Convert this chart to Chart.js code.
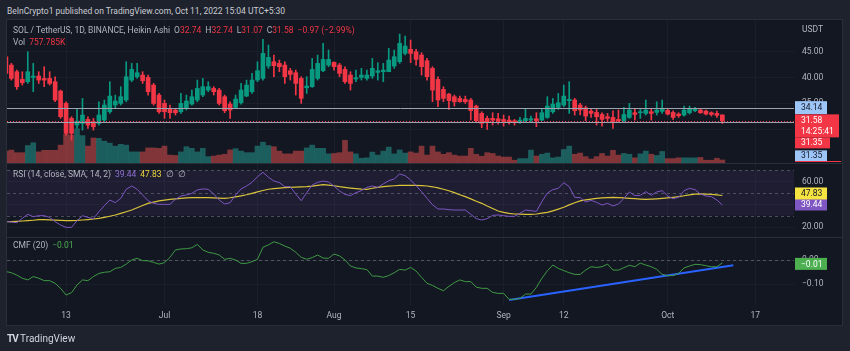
<!DOCTYPE html>
<html>
<head>
<meta charset="utf-8">
<script src="https://cdn.jsdelivr.net/npm/chart.js@4.4.0/dist/chart.umd.min.js"></script>
<style>
body { margin: 0; background: #1e222d; width: 850px; height: 351px; overflow: hidden; position: relative; font-family: Roboto, sans-serif; }
#panel { position: absolute; left: 6px; top: 19px; width: 835px; height: 305px; border: 1px solid #2a2e39; background: #131722; }
#panel canvas { position: absolute; left: 0; }
.sep { position: absolute; left: 0; width: 835px; height: 1px; background: #2a2e39; }
.txt { position: absolute; font-size: 8.5px; line-height: 10px; color: #b2b5be; white-space: nowrap; }
.r { color: #f23645; }
.g { margin-left: 4px; }
</style>
</head>
<body>
<div class="txt" style="left:7px;top:6px;color:#c9ccd4;">BeInCrypto1 published on TradingView.com, Oct 11, 2022 15:04 UTC+5:30</div>
<div id="panel">
  <canvas id="price" width="835" height="143" style="top:0"></canvas>
  <div class="sep" style="top:143px"></div>
  <canvas id="rsi" width="835" height="73" style="top:144px"></canvas>
  <div class="sep" style="top:217px"></div>
  <canvas id="cmf" width="835" height="87" style="top:218px"></canvas>
</div>
<div class="txt" style="left:13px;top:25px;">SOL / TetherUS, 1D, BINANCE, Heikin Ashi<span class="g">O</span><span class="r">32.74</span><span class="g">H</span><span class="r">32.74</span><span class="g">L</span><span class="r">31.07</span><span class="g">C</span><span class="r">31.58</span><span class="g r">−0.97 (−2.99%)</span></div>
<div class="txt" style="left:13px;top:37px;">Vol<span class="g r">757.785K</span></div>
<div class="txt" style="left:802px;top:24px;">USDT</div>
<div class="txt" style="left:13px;top:169px;">RSI (14, close, SMA, 14, 2)<span class="g" style="color:#8e6fd0">39.44</span><span class="g" style="color:#e8d33a">47.83</span><span class="g">∅</span><span class="g">∅</span></div>
<div class="txt" style="left:13px;top:240px;">CMF (20)<span class="g" style="color:#4caf50">−0.01</span></div>
<div class="txt" style="left:7px;top:334px;font-size:10px;color:#d1d4dc;"><b style="letter-spacing:-1px">TV</b> TradingView</div>
<script>
// Heikin Ashi daily candles, SOL/USDT, day 1 = Jun 1 2022
const firstDay = 1;
const opens = [44.0,42.41,41.12,39.63,39.18,40.02,40.28,39.82,39.82,39.18,
  37.37,34.97,32.06,30.76,31.09,31.86,31.41,31.09,31.73,33.35,
  34.65,34.97,35.62,39.50,40.15,40.47,40.02,38.53,36.59,34.97,
  34.0,33.68,33.35,34.13,34.84,35.62,36.59,37.56,37.88,37.56,
  36.27,34.84,34.19,35.10,36.39,37.24,39.50,39.82,42.22,43.06,
  42.74,42.41,41.31,40.93,39.82,38.01,38.21,39.82,41.31,42.41,
  42.93,42.41,41.57,40.47,39.70,40.02,39.82,40.28,40.99,41.12,
  41.12,42.22,43.06,44.68,45.46,45.0,44.36,43.26,41.77,39.63,
  37.69,36.78,36.27,35.94,35.75,35.62,34.45,33.03,32.06,32.06,
  31.99,31.86,31.73,31.60,31.41,31.60,31.73,31.99,31.73,32.25,
  33.35,34.19,34.65,35.49,35.62,34.65,34.13,33.48,33.22,32.83,
  32.38,32.25,31.86,31.60,32.25,33.16,33.16,33.03,33.35,33.22,
  33.42,33.61,33.22,32.90,32.71,33.16,33.55,33.68,33.48,33.16,
  33.03,32.74];
const highs = [44.5,42.74,41.44,41.12,45.0,42.74,41.12,42.09,41.12,40.15,
  37.56,35.29,32.38,34.0,35.94,32.38,32.06,35.29,35.62,39.18,
  36.59,38.21,43.06,42.74,42.74,41.12,40.47,38.85,36.91,35.62,
  34.65,33.81,36.91,36.59,37.56,39.50,39.82,39.18,38.21,37.88,
  36.59,35.29,36.59,38.85,39.50,40.80,43.06,47.40,46.30,44.36,
  43.38,43.06,41.77,41.44,40.15,40.15,43.71,44.36,46.62,45.33,
  43.06,42.74,42.09,41.12,41.44,41.77,41.44,43.71,42.87,42.74,
  45.65,45.33,48.43,48.04,47.27,45.46,44.81,43.71,42.09,40.15,
  38.21,36.91,36.59,36.39,36.39,35.94,34.65,33.35,32.51,33.16,
  33.03,32.71,32.51,31.86,32.25,34.0,32.51,33.16,34.0,36.27,
  35.94,36.91,38.53,39.18,35.94,34.97,34.45,34.0,33.81,33.16,
  33.03,33.55,33.68,34.19,34.97,34.0,34.0,35.62,34.0,35.29,
  35.62,34.0,33.55,33.16,34.45,34.45,34.19,34.0,33.68,33.35,
  33.48,32.74];
const lows = [40.5,39.50,37.69,38.53,38.85,37.24,38.85,38.21,38.53,35.29,
  32.06,28.82,27.85,30.12,29.79,30.12,29.79,30.76,31.41,33.03,
  34.0,34.65,35.29,39.18,39.82,38.85,36.59,34.65,33.03,32.06,
  32.06,32.71,33.03,33.68,34.65,35.29,36.27,37.24,36.59,34.65,
  33.16,32.06,34.0,34.84,36.27,36.91,39.18,39.50,41.77,40.15,
  41.12,38.85,39.50,36.59,34.97,36.91,38.08,39.50,41.12,42.09,
  41.44,40.15,38.85,37.56,39.18,39.50,39.50,39.82,39.50,39.18,
  41.12,41.77,42.74,44.36,42.87,42.41,40.47,39.50,35.29,34.32,
  35.29,33.81,34.45,35.20,34.97,31.73,31.22,30.25,29.92,30.76,
  30.96,30.57,30.96,30.76,31.09,31.22,31.22,30.44,31.60,32.06,
  33.03,33.81,34.32,33.03,32.71,32.71,31.60,32.25,30.76,30.57,
  31.41,30.12,31.22,31.41,32.06,31.73,32.06,32.71,31.73,32.71,
  33.03,32.71,31.86,32.25,32.51,32.90,33.35,33.03,32.71,32.51,
  32.25,31.07];
const closes = [40.8,39.82,38.21,38.98,41.12,40.28,39.50,39.50,38.85,35.62,
  32.38,29.15,29.15,31.54,32.71,30.76,30.44,32.71,34.65,36.39,
  35.42,36.27,40.15,41.57,40.93,39.37,37.24,34.97,33.35,33.35,
  33.16,33.16,34.97,35.42,36.27,37.88,38.21,38.21,37.24,34.97,
  33.55,33.68,35.81,37.56,38.53,39.50,41.31,44.68,43.90,42.28,
  42.09,40.15,40.60,38.85,35.94,38.34,41.57,42.74,43.51,43.51,
  42.09,40.80,39.18,38.85,39.95,40.47,40.47,41.77,41.31,41.44,
  43.38,44.03,46.62,46.10,44.68,43.51,42.09,40.15,37.56,35.62,
  35.94,35.49,35.29,35.29,35.29,33.55,31.60,31.09,31.35,31.73,
  31.60,31.48,31.41,31.22,31.73,32.06,31.99,31.60,33.16,34.45,
  34.84,35.10,36.39,35.75,33.55,33.68,32.51,33.03,32.38,31.86,
  32.06,31.41,31.60,32.83,33.68,32.83,33.35,33.68,33.03,33.68,
  33.93,32.90,32.25,32.58,33.68,34.0,33.87,33.16,32.90,32.83,
  32.64,31.58];
// volume in millions of SOL
const volumes = [3.0,3.25,2.6,2.6,4.4,5.1,2.8,3.2,3.2,3.2,
  4.5,7.2,7.0,8.6,6.9,4.25,6.3,6.2,5.5,5.0,
  4.25,4.7,4.5,2.8,2.8,2.8,3.8,3.8,3.7,4.25,
  2.0,1.9,2.8,4.1,3.7,2.8,3.7,1.6,1.75,2.0,
  2.2,3.3,3.6,3.0,2.6,2.6,4.25,5.25,4.4,4.1,
  3.0,2.3,2.3,3.0,3.0,3.8,4.5,3.7,3.7,2.3,
  2.4,2.6,5.7,2.8,2.3,1.2,1.3,2.75,2.0,3.0,
  4.0,2.3,3.3,2.5,2.8,2.5,4.25,2.0,4.25,2.8,
  2.2,2.6,2.0,1.75,1.75,3.7,2.2,1.7,2.6,2.4,
  1.75,1.5,1.5,0.7,1.1,1.1,3.25,1.75,2.2,2.5,
  1.3,1.5,3.4,4.25,2.2,2.5,1.6,1.0,1.6,2.4,
  1.75,3.2,2.0,2.4,2.2,1.3,2.3,3.0,2.2,1.9,
  2.9,1.1,1.1,1.3,1.3,1.3,1.3,1.4,0.7,0.7,
  1.2,0.76];
const rsi = [25.0,24.4,23.8,27.7,31.2,29.1,30.0,30.0,28.5,24.7,
  21.8,19.7,19.7,25.6,30.0,28.5,27.4,33.5,38.8,43.8,
  41.5,45.3,53.3,56.2,53.3,48.3,43.2,40.9,40.0,40.0,
  40.0,44.4,47.4,48.3,49.7,52.7,53.6,53.3,49.1,43.8,
  40.3,41.5,48.3,53.6,56.2,59.4,64.4,68.3,63.9,60.6,
  59.2,55.6,55.6,49.1,43.2,50.3,57.1,59.4,60.6,59.7,
  56.2,51.8,48.8,47.7,50.3,52.1,55.0,56.2,55.0,58.0,
  60.9,62.4,66.8,65.3,61.5,56.5,51.2,45.3,39.7,35.9,
  35.9,35.3,35.0,35.0,35.0,31.2,27.4,26.2,27.4,30.3,
  30.6,30.0,29.4,29.4,32.1,35.0,34.4,33.8,42.4,50.0,
  53.0,54.1,59.1,55.6,46.2,45.9,42.1,43.5,41.8,39.4,
  40.9,38.6,40.3,45.3,50.9,47.7,48.0,51.2,48.0,50.9,
  52.1,47.4,45.0,46.2,52.1,54.1,53.0,49.1,47.4,46.8,
  43.8,39.44];
const rsiMa = [24.7,24.7,25.0,25.3,25.6,26.0,26.5,26.5,26.3,26.0,
  25.8,25.6,25.6,25.8,26.2,26.6,27.1,27.7,28.5,29.5,
  30.6,32.0,33.5,35.0,37.0,39.0,40.9,42.0,43.0,43.8,
  44.4,44.9,45.3,45.7,45.9,45.9,45.9,45.9,45.7,45.5,
  45.3,45.8,46.6,47.5,48.5,49.7,51.0,52.2,53.3,53.9,
  54.4,54.7,55.0,55.2,55.4,55.6,56.1,56.8,57.4,57.0,
  56.4,55.6,55.0,54.4,53.9,53.5,53.3,54.2,55.0,55.6,
  56.0,56.4,56.7,56.8,56.8,56.8,56.6,56.2,55.5,54.6,
  53.3,52.0,50.3,48.5,46.8,44.8,42.8,40.9,38.5,36.3,
  34.1,33.0,32.1,31.5,31.3,31.2,31.2,31.5,32.2,32.9,
  34.3,35.8,37.4,39.5,41.4,43.0,43.9,44.6,45.3,45.7,
  46.0,46.2,46.0,45.7,45.3,45.0,44.7,44.4,44.6,44.9,
  45.3,45.7,46.2,46.8,47.6,48.4,49.1,49.2,49.1,48.8,
  48.3,47.83];
const cmf = [-0.048,-0.053,-0.063,-0.076,-0.083,-0.069,-0.076,-0.086,-0.086,-0.097,
  -0.118,-0.146,-0.136,-0.104,-0.083,-0.086,-0.069,-0.056,-0.051,-0.049,
  -0.035,-0.031,-0.017,0.0,0.007,-0.003,-0.003,-0.010,-0.017,-0.011,
  0.011,0.042,0.046,0.047,0.051,0.065,0.042,0.032,0.028,0.021,
  0.003,0.007,0.0,-0.014,-0.014,-0.007,0.003,0.053,0.063,0.076,
  0.069,0.058,0.049,0.032,0.011,0.003,0.010,0.021,0.008,0.007,
  0.025,0.017,0.0,-0.025,-0.033,-0.036,-0.040,-0.067,-0.067,-0.072,
  -0.065,-0.053,-0.039,-0.042,-0.031,-0.046,-0.072,-0.097,-0.106,-0.118,
  -0.128,-0.110,-0.094,-0.083,-0.090,-0.090,-0.113,-0.118,-0.118,-0.135,
  -0.139,-0.139,-0.164,-0.164,-0.160,-0.142,-0.142,-0.114,-0.076,-0.045,
  -0.021,-0.035,-0.044,-0.053,-0.060,-0.060,-0.042,-0.028,-0.031,-0.028,
  -0.017,-0.042,-0.042,-0.032,-0.022,-0.028,-0.013,-0.021,-0.028,-0.039,
  -0.060,-0.065,-0.065,-0.056,-0.033,-0.025,-0.018,-0.019,-0.024,-0.028,
  -0.028,-0.012];
// hand-drawn trend line on the CMF pane
const trendDays = [93, 134];
const trendVals = [-0.167, -0.022];
const tickDays = [12, 30, 47, 61, 75, 92, 103, 122, 138];
const tickLabels = ['13', 'Jul', '18', 'Aug', '15', 'Sep', '12', 'Oct', '17'];
const priceTicks = [30, 35, 40, 45];
const rsiTicks = [20, 40, 60];
const cmfTicks = [-0.1, 0, 0.1];
const levelLines = [34.14, 31.35];
const lastClose = 31.58;
const countdown = '14:25:41';

const xMin = 1.2, xMax = 145.1;
const upColor = '#089981', downColor = '#f23645';
const gridColor = '#1b1f2b';
const axisFont = { size: 8.5, family: 'Roboto' };
const minus = s => s.replace('-', '\u2212');

const isUp = opens.map((o, i) => closes[i] >= o);
const candleColors = isUp.map(u => u ? upColor : downColor);
const volColors = isUp.map(u => u ? 'rgba(38,166,154,0.5)' : 'rgba(239,83,80,0.5)');

function xAxis(showLabels) {
  return {
    type: 'linear', min: xMin, max: xMax, offset: false,
    afterBuildTicks: s => { s.ticks = tickDays.map(v => ({ value: v })); },
    grid: { color: gridColor, drawTicks: false, offset: false },
    border: { display: false },
    ticks: { display: showLabels, color: '#b2b5be', font: axisFont, padding: 6, maxRotation: 0, autoSkip: false,
      callback: v => tickLabels[tickDays.indexOf(v)] },
    afterFit: s => { s.height = showLabels ? 20 : 0; s.paddingLeft = 0; s.paddingRight = 0; }
  };
}

function yAxis(min, max, ticks) {
  return {
    position: 'right', min: min, max: max,
    afterBuildTicks: s => { s.ticks = ticks.map(v => ({ value: v })); },
    grid: { color: gridColor, drawTicks: false },
    border: { display: false },
    ticks: { color: '#b2b5be', font: axisFont, padding: 8, callback: v => minus(v.toFixed(2)) },
    afterFit: s => { s.width = 48; s.paddingTop = 0; s.paddingBottom = 0; }
  };
}

function tag(ctx, x, y, w, h, bg, fg, lines) {
  ctx.fillStyle = bg;
  ctx.fillRect(x, y, w, h);
  ctx.fillStyle = fg;
  ctx.font = '8.5px Roboto';
  ctx.textAlign = 'left';
  ctx.textBaseline = 'middle';
  lines.forEach((t, i) => ctx.fillText(t, x + 6, y + h / lines.length / 2 + i * (h / lines.length) + 0.5));
}

const baseOpts = {
  responsive: false, animation: false, events: [],
  layout: { padding: 0 },
  plugins: { legend: { display: false }, tooltip: { enabled: false } }
};

const priceDecor = {
  id: 'priceDecor',
  afterDatasetsDraw(chart) {
    const { ctx, chartArea: a, scales: { y } } = chart;
    ctx.save();
    ctx.lineWidth = 1;
    ctx.strokeStyle = '#9ea3b0';
    levelLines.forEach(v => {
      const py = Math.round(y.getPixelForValue(v)) + 0.5;
      ctx.beginPath(); ctx.moveTo(a.left, py); ctx.lineTo(a.right, py); ctx.stroke();
    });
    ctx.strokeStyle = downColor;
    ctx.setLineDash([1, 2]);
    const pc = Math.round(y.getPixelForValue(lastClose)) + 0.5;
    ctx.beginPath(); ctx.moveTo(a.left, pc); ctx.lineTo(a.right, pc); ctx.stroke();
    ctx.restore();
  },
  afterDraw(chart) {
    const { ctx, chartArea: a, scales: { y } } = chart;
    const x = a.right + 1;
    const pb = y.getPixelForValue(levelLines[0]);
    const pc = y.getPixelForValue(lastClose);
    ctx.save();
    tag(ctx, x, pb - 6.5, 32, 13, '#9ec5f8', '#131722', [levelLines[0].toFixed(2)]);
    tag(ctx, x, pc - 6.5, 44, 23, downColor, '#ffffff', [lastClose.toFixed(2), countdown]);
    tag(ctx, x, pc + 16.5, 35, 11, downColor, '#ffffff', [levelLines[1].toFixed(2)]);
    tag(ctx, x, pc + 29.5, 32, 11, '#9ec5f8', '#131722', [levelLines[1].toFixed(2)]);
    ctx.fillStyle = downColor;
    ctx.fillRect(x, a.bottom - 2, 46, 1);
    ctx.restore();
  }
};

new Chart(document.getElementById('price'), {
  type: 'bar',
  data: {
    datasets: [
      { data: opens.map((o, i) => ({ x: firstDay + i, y: [o, closes[i]] })), backgroundColor: candleColors,
        barThickness: 4, minBarLength: 1, grouped: false, yAxisID: 'y', order: 1 },
      { data: lows.map((l, i) => ({ x: firstDay + i, y: [l, highs[i]] })), backgroundColor: candleColors,
        barThickness: 1, grouped: false, yAxisID: 'y', order: 2 },
      { data: volumes.map((v, i) => ({ x: firstDay + i, y: v })), backgroundColor: volColors,
        barThickness: 5, grouped: false, yAxisID: 'yv', order: 3 }
    ]
  },
  options: Object.assign({}, baseOpts, {
    scales: {
      x: xAxis(false),
      y: yAxis(23.4, 51.16, priceTicks),
      yv: { display: false, min: 0, max: 36 }
    }
  }),
  plugins: [priceDecor]
});

const rsiDecor = {
  id: 'rsiDecor',
  beforeDatasetsDraw(chart) {
    const { ctx, chartArea: a, scales: { y } } = chart;
    const top = y.getPixelForValue(70), bot = y.getPixelForValue(30);
    ctx.save();
    ctx.fillStyle = 'rgba(126,87,194,0.1)';
    ctx.fillRect(a.left, top, a.right - a.left, bot - top);
    ctx.strokeStyle = 'rgba(120,123,134,0.55)';
    ctx.setLineDash([3, 3]);
    [70, 50, 30].forEach(v => {
      const py = Math.round(y.getPixelForValue(v)) + 0.5;
      ctx.beginPath(); ctx.moveTo(a.left, py); ctx.lineTo(a.right, py); ctx.stroke();
    });
    ctx.restore();
  },
  afterDraw(chart) {
    const { ctx, chartArea: a, scales: { y } } = chart;
    const pp = y.getPixelForValue(rsi[rsi.length - 1]);
    ctx.save();
    tag(ctx, a.right + 1, pp - 6.5, 32, 12, '#7e57c2', '#ffffff', [rsi[rsi.length - 1].toFixed(2)]);
    tag(ctx, a.right + 1, pp - 17.5, 32, 12, '#f5e342', '#131722', [rsiMa[rsiMa.length - 1].toFixed(2)]);
    ctx.restore();
  }
};

new Chart(document.getElementById('rsi'), {
  type: 'line',
  data: {
    datasets: [
      { data: rsi.map((v, i) => ({ x: firstDay + i, y: v })), borderColor: '#7e57c2', borderWidth: 1, pointRadius: 0 },
      { data: rsiMa.map((v, i) => ({ x: firstDay + i, y: v })), borderColor: '#d9c43a', borderWidth: 1.2, pointRadius: 0 }
    ]
  },
  options: Object.assign({}, baseOpts, {
    scales: { x: xAxis(false), y: yAxis(11.2, 75.6, rsiTicks) }
  }),
  plugins: [rsiDecor]
});

const cmfDecor = {
  id: 'cmfDecor',
  beforeDatasetsDraw(chart) {
    const { ctx, chartArea: a, scales: { y } } = chart;
    ctx.save();
    ctx.strokeStyle = 'rgba(120,123,134,0.6)';
    ctx.setLineDash([3, 3]);
    const py = Math.round(y.getPixelForValue(0)) + 0.5;
    ctx.beginPath(); ctx.moveTo(a.left, py); ctx.lineTo(a.right, py); ctx.stroke();
    ctx.restore();
  },
  afterDraw(chart) {
    const { ctx, chartArea: a, scales: { y } } = chart;
    const last = cmf[cmf.length - 1];
    const pp = y.getPixelForValue(last);
    ctx.save();
    tag(ctx, a.right + 1, pp - 5, 32, 12, '#4caf50', '#ffffff', [minus(last.toFixed(2))]);
    ctx.restore();
  }
};

new Chart(document.getElementById('cmf'), {
  type: 'line',
  data: {
    datasets: [
      { data: cmf.map((v, i) => ({ x: firstDay + i, y: v })), borderColor: '#3f9a44', borderWidth: 1, pointRadius: 0 },
      { data: trendDays.map((d, i) => ({ x: d, y: trendVals[i] })), borderColor: '#2962ff', borderWidth: 2, pointRadius: 0 }
    ]
  },
  options: Object.assign({}, baseOpts, {
    scales: { x: xAxis(true), y: yAxis(-0.1875, 0.0917, cmfTicks) }
  }),
  plugins: [cmfDecor]
});
</script>
</body>
</html>
